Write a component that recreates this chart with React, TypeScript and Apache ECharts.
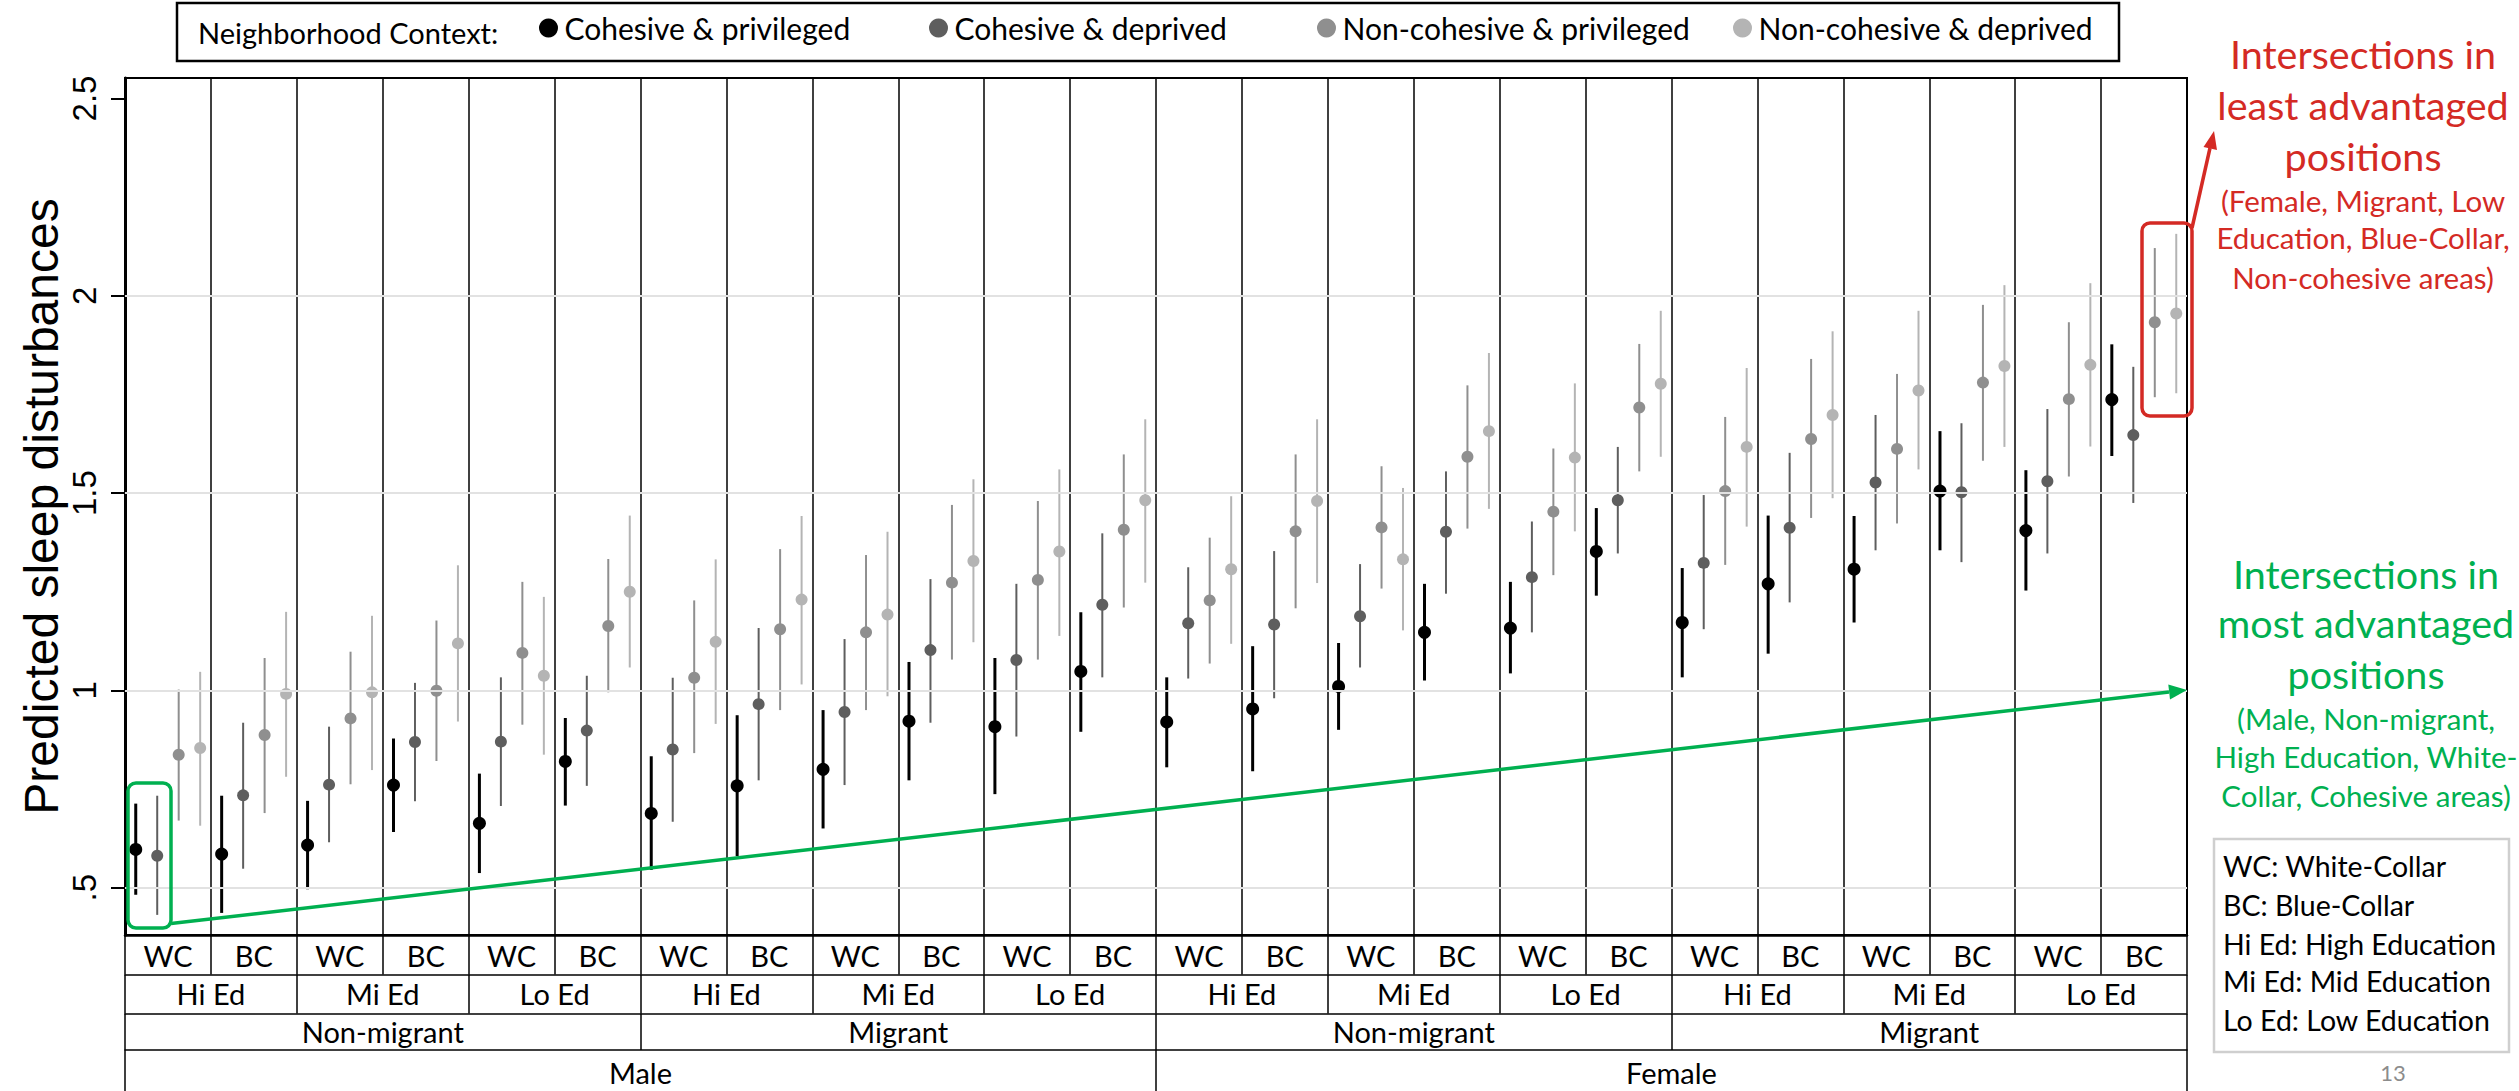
import React, { useEffect, useRef } from "react";
import * as echarts from "echarts";

// ---------- data ----------
const rowOccupation = ["WC","BC","WC","BC","WC","BC","WC","BC","WC","BC","WC","BC","WC","BC","WC","BC","WC","BC","WC","BC","WC","BC","WC","BC"];
const rowEducation = ["Hi Ed","Mi Ed","Lo Ed","Hi Ed","Mi Ed","Lo Ed","Hi Ed","Mi Ed","Lo Ed","Hi Ed","Mi Ed","Lo Ed"];
const rowMigration = ["Non-migrant","Migrant","Non-migrant","Migrant"];
const rowGender = ["Male","Female"];
const contexts = ["Cohesive & privileged","Cohesive & deprived","Non-cohesive & privileged","Non-cohesive & deprived"];
const yTicks = [0.5, 1, 1.5, 2, 2.5];
const gridValues = [0.5, 1, 1.5, 2];

const cpMean = [0.597,0.585,0.608,0.760,0.663,0.820,0.688,0.758,0.800,0.922,0.908,1.048,0.920,0.953,1.010,1.147,1.158,1.352,1.172,1.270,1.307,1.505,1.405,1.737];
const cpLow  = [0.482,0.436,0.496,0.641,0.537,0.708,0.545,0.580,0.650,0.772,0.737,0.895,0.805,0.795,0.900,1.025,1.043,1.240,1.033,1.093,1.172,1.355,1.253,1.594];
const cpHigh = [0.713,0.733,0.720,0.878,0.789,0.930,0.833,0.937,0.950,1.072,1.082,1.198,1.033,1.112,1.120,1.270,1.275,1.462,1.310,1.443,1.442,1.657,1.558,1.877];

const cdMean = [0.581,0.734,0.761,0.869,0.870,0.898,0.850,0.965,0.945,1.102,1.077,1.217,1.170,1.167,1.188,1.402,1.287,1.482,1.323,1.412,1.527,1.502,1.530,1.647];
const cdLow  = [0.431,0.548,0.615,0.719,0.707,0.758,0.667,0.772,0.760,0.918,0.883,1.033,1.030,0.980,1.058,1.245,1.147,1.347,1.155,1.223,1.355,1.325,1.347,1.475];
const cdHigh = [0.733,0.918,0.908,1.019,1.033,1.037,1.032,1.158,1.130,1.282,1.270,1.398,1.312,1.353,1.320,1.555,1.428,1.617,1.495,1.602,1.698,1.677,1.713,1.820];

const npMean = [0.837,0.887,0.929,0.999,1.095,1.163,1.032,1.155,1.147,1.273,1.280,1.407,1.228,1.403,1.413,1.592,1.453,1.717,1.505,1.637,1.612,1.780,1.738,1.933];
const npLow  = [0.670,0.689,0.762,0.821,0.913,0.995,0.841,0.950,0.950,1.078,1.078,1.210,1.068,1.208,1.258,1.410,1.292,1.555,1.318,1.437,1.423,1.582,1.542,1.743];
const npHigh = [1.002,1.082,1.098,1.177,1.275,1.333,1.228,1.358,1.343,1.470,1.480,1.598,1.387,1.598,1.568,1.773,1.613,1.878,1.693,1.840,1.802,1.977,1.933,2.121];

const ndMean = [0.854,0.991,0.995,1.119,1.037,1.250,1.123,1.230,1.192,1.328,1.352,1.482,1.307,1.480,1.332,1.657,1.590,1.777,1.617,1.698,1.760,1.822,1.825,1.955];
const ndLow  = [0.657,0.781,0.798,0.921,0.837,1.058,0.915,1.015,0.985,1.122,1.138,1.273,1.118,1.272,1.152,1.460,1.403,1.592,1.415,1.487,1.560,1.617,1.618,1.753];
const ndHigh = [1.047,1.199,1.189,1.317,1.237,1.443,1.332,1.442,1.402,1.535,1.560,1.687,1.492,1.687,1.513,1.855,1.778,1.962,1.817,1.910,1.962,2.027,2.032,2.157];

const means = [cpMean, cdMean, npMean, ndMean];
const lows = [cpLow, cdLow, npLow, ndLow];
const highs = [cpHigh, cdHigh, npHigh, ndHigh];

const redLines = ["Intersections in", "least advantaged", "positions"];
const redSub = ["(Female, Migrant, Low", "Education, Blue-Collar,", "Non-cohesive areas)"];
const greenLines = ["Intersections in", "most advantaged", "positions"];
const greenSub = ["(Male, Non-migrant,", "High Education, White-", "Collar, Cohesive areas)"];
const abbrevLines = ["WC: White-Collar", "BC: Blue-Collar", "Hi Ed: High Education", "Mi Ed: Mid Education", "Lo Ed: Low Education"];

// ---------- style ----------
const colors = ["#000000", "#5e5e5e", "#8f8f8f", "#b4b4b4"];
const dotSizes = [13, 12, 12, 12];
const barWidths = [3, 2, 2, 2];
const legendIconX = [550, 940, 1328, 1744];
const SANS = "Lato";
const ARIAL = "Liberation Sans";
const RED = "#d42a24";
const GREEN = "#00b050";

export default function App() {
  const ref = useRef<HTMLDivElement>(null);

  useEffect(() => {
    if (!ref.current) return;
    const chart = echarts.init(ref.current, undefined, { renderer: "svg" });

    const series: any[] = [];
    series.push({
      type: "line",
      name: "grid",
      data: [],
      xAxisIndex: 0,
      yAxisIndex: 0,
      z: 1,
      silent: true,
      markLine: {
        silent: true,
        symbol: ["none", "none"],
        label: { show: false },
        lineStyle: { color: "#e2e2e2", width: 2, type: "solid" },
        data: gridValues.map((v) => ({ yAxis: v })),
      },
    });
    contexts.forEach((name, k) => {
      const bars = means[k].map((_, i) => [i * 4 + k + 0.5, lows[k][i], highs[k][i]]);
      const pts = means[k].map((m, i) => [i * 4 + k + 0.5, m]);
      series.push({
        type: "custom",
        name: name + " CI",
        xAxisIndex: 0,
        yAxisIndex: 0,
        z: 2,
        silent: true,
        encode: { x: 0, y: [1, 2] },
        data: bars,
        renderItem: (params: any, api: any) => {
          const x = api.value(0);
          const a = api.coord([x, api.value(1)]);
          const b = api.coord([x, api.value(2)]);
          return {
            type: "line",
            shape: { x1: a[0], y1: a[1], x2: b[0], y2: b[1] },
            style: { stroke: colors[k], lineWidth: barWidths[k] },
          };
        },
      });
      series.push({
        type: "scatter",
        name,
        xAxisIndex: 0,
        yAxisIndex: 0,
        z: 3,
        symbol: "circle",
        symbolSize: dotSizes[k],
        itemStyle: { color: colors[k], opacity: 1 },
        data: pts,
      });
    });

    const legends = contexts.map((name, k) => ({
      show: true,
      data: [{ name, icon: "circle" }],
      left: legendIconX[k] - 11,
      top: 13,
      padding: 0,
      itemWidth: 22,
      itemHeight: 19,
      selectedMode: false,
      textStyle: { fontFamily: SANS, fontSize: 30, color: "#000" },
    }));

    const catAxis = (data: string[], offset: number, tickLen: number, margin: number, showLine: boolean) => ({
      type: "category",
      data,
      gridIndex: 0,
      position: "bottom",
      offset,
      boundaryGap: true,
      axisLine: { show: showLine, lineStyle: { color: "#000", width: 1.5 } },
      axisTick: { show: true, interval: 0, inside: false, length: tickLen, lineStyle: { color: "#000", width: 1.5 } },
      axisLabel: {
        show: true,
        interval: 0,
        margin,
        verticalAlign: "middle",
        fontFamily: SANS,
        fontSize: 29,
        color: "#000",
      },
      splitLine: { show: false },
      splitArea: { show: false },
    });

    const graphic: any[] = [];
    graphic.push({
      type: "rect",
      z: 100,
      shape: { x: 177, y: 3, width: 1942, height: 58 },
      style: { fill: "none", stroke: "#000", lineWidth: 2.5 },
    });
    graphic.push({
      type: "text",
      z: 100,
      x: 198,
      y: 32,
      style: { text: "Neighborhood Context:", fill: "#000", fontFamily: SANS, fontSize: 29, align: "left", verticalAlign: "middle" },
    });
    const redY = [53, 104, 155];
    redLines.forEach((t, i) =>
      graphic.push({ type: "text", z: 100, x: 2363, y: redY[i], style: { text: t, fill: RED, fontFamily: SANS, fontSize: 39.5, align: "center", verticalAlign: "middle" } })
    );
    const redSubY = [200, 237, 277];
    redSub.forEach((t, i) =>
      graphic.push({ type: "text", z: 100, x: 2363, y: redSubY[i], style: { text: t, fill: RED, fontFamily: SANS, fontSize: 29.5, align: "center", verticalAlign: "middle" } })
    );
    const greenY = [573, 622, 673];
    greenLines.forEach((t, i) =>
      graphic.push({ type: "text", z: 100, x: 2366, y: greenY[i], style: { text: t, fill: GREEN, fontFamily: SANS, fontSize: 39.5, align: "center", verticalAlign: "middle" } })
    );
    const greenSubY = [718, 756, 795];
    greenSub.forEach((t, i) =>
      graphic.push({ type: "text", z: 100, x: 2366, y: greenSubY[i], style: { text: t, fill: GREEN, fontFamily: SANS, fontSize: 29.5, align: "center", verticalAlign: "middle" } })
    );
    // red box + arrow
    graphic.push({ type: "rect", z: 100, shape: { x: 2142, y: 223, width: 50, height: 193, r: 8 }, style: { fill: "none", stroke: RED, lineWidth: 3.5 } });
    graphic.push({ type: "line", z: 100, shape: { x1: 2192, y1: 228, x2: 2210, y2: 148 }, style: { stroke: RED, lineWidth: 3.5 } });
    graphic.push({ type: "polygon", z: 100, shape: { points: [[2214, 131], [2217, 150], [2203.5, 147]] }, style: { fill: RED } });
    // green box + arrow
    graphic.push({ type: "rect", z: 100, shape: { x: 128, y: 783, width: 43, height: 145, r: 8 }, style: { fill: "none", stroke: GREEN, lineWidth: 3.5 } });
    graphic.push({ type: "line", z: 100, shape: { x1: 171, y1: 923.5, x2: 2169, y2: 692.1 }, style: { stroke: GREEN, lineWidth: 3.5 } });
    graphic.push({ type: "polygon", z: 100, shape: { points: [[2187, 690], [2170, 699.5], [2168.3, 684.6]] }, style: { fill: GREEN } });
    // abbreviation box
    graphic.push({ type: "rect", z: 100, shape: { x: 2214, y: 839, width: 295, height: 213 }, style: { fill: "#fff", stroke: "#cfcfcf", lineWidth: 2.5 } });
    const abbrY = [866, 905, 943.5, 981, 1020];
    abbrevLines.forEach((t, i) =>
      graphic.push({ type: "text", z: 101, x: 2223, y: abbrY[i], style: { text: t, fill: "#000", fontFamily: SANS, fontSize: 28.5, align: "left", verticalAlign: "middle" } })
    );
    graphic.push({ type: "text", z: 100, x: 2393, y: 1072, style: { text: "13", fill: "#8c8c8c", fontFamily: SANS, fontSize: 22, align: "center", verticalAlign: "middle" } });

    const option: any = {
      animation: false,
      backgroundColor: "#ffffff",
      grid: {
        left: 125,
        top: 78,
        width: 2062,
        height: 857,
        show: true,
        borderColor: "#000",
        borderWidth: 2,
        backgroundColor: "transparent",
        containLabel: false,
        outerBoundsMode: "none",
      },
      legend: legends,
      xAxis: [
        {
          type: "value",
          min: 0,
          max: 96,
          interval: 4,
          position: "bottom",
          axisLine: { show: true, onZero: false, lineStyle: { color: "#000", width: 2.5 } },
          axisTick: { show: false },
          axisLabel: { show: false },
          splitLine: { show: true, lineStyle: { color: "#000", width: 1.5 } },
        },
        catAxis(rowOccupation, 0, 39.5, 20, false),
        catAxis(rowEducation, 39.5, 39, 19, true),
        catAxis(rowMigration, 78.5, 36.5, 18, true),
        catAxis(rowGender, 115, 50, 22, true),
      ],
      yAxis: {
        type: "value",
        min: 0.38,
        max: 2.552,
        name: "Predicted sleep disturbances",
        nameLocation: "middle",
        nameRotate: 90,
        nameGap: 60,
        nameMoveOverlap: false,
        nameTextStyle: { fontFamily: ARIAL, fontSize: 48, color: "#000" },
        axisLine: { show: true, onZero: false, lineStyle: { color: "#000", width: 3 } },
        axisTick: { show: true, inside: false, length: 14, customValues: yTicks, lineStyle: { color: "#000", width: 2 } },
        axisLabel: {
          show: true,
          rotate: 90,
          margin: 24,
          customValues: yTicks,
          fontFamily: ARIAL,
          fontSize: 33,
          color: "#000",
          formatter: (v: number) => (v === 0.5 ? ".5" : String(v)),
        },
        splitLine: { show: false },
      },
      graphic,
      series,
    };

    chart.setOption(option);
    return () => chart.dispose();
  }, []);

  return (
    <div
      ref={ref}
      style={{ position: "fixed", left: 0, top: 0, width: 2519, height: 1091, background: "#fff" }}
    />
  );
}
